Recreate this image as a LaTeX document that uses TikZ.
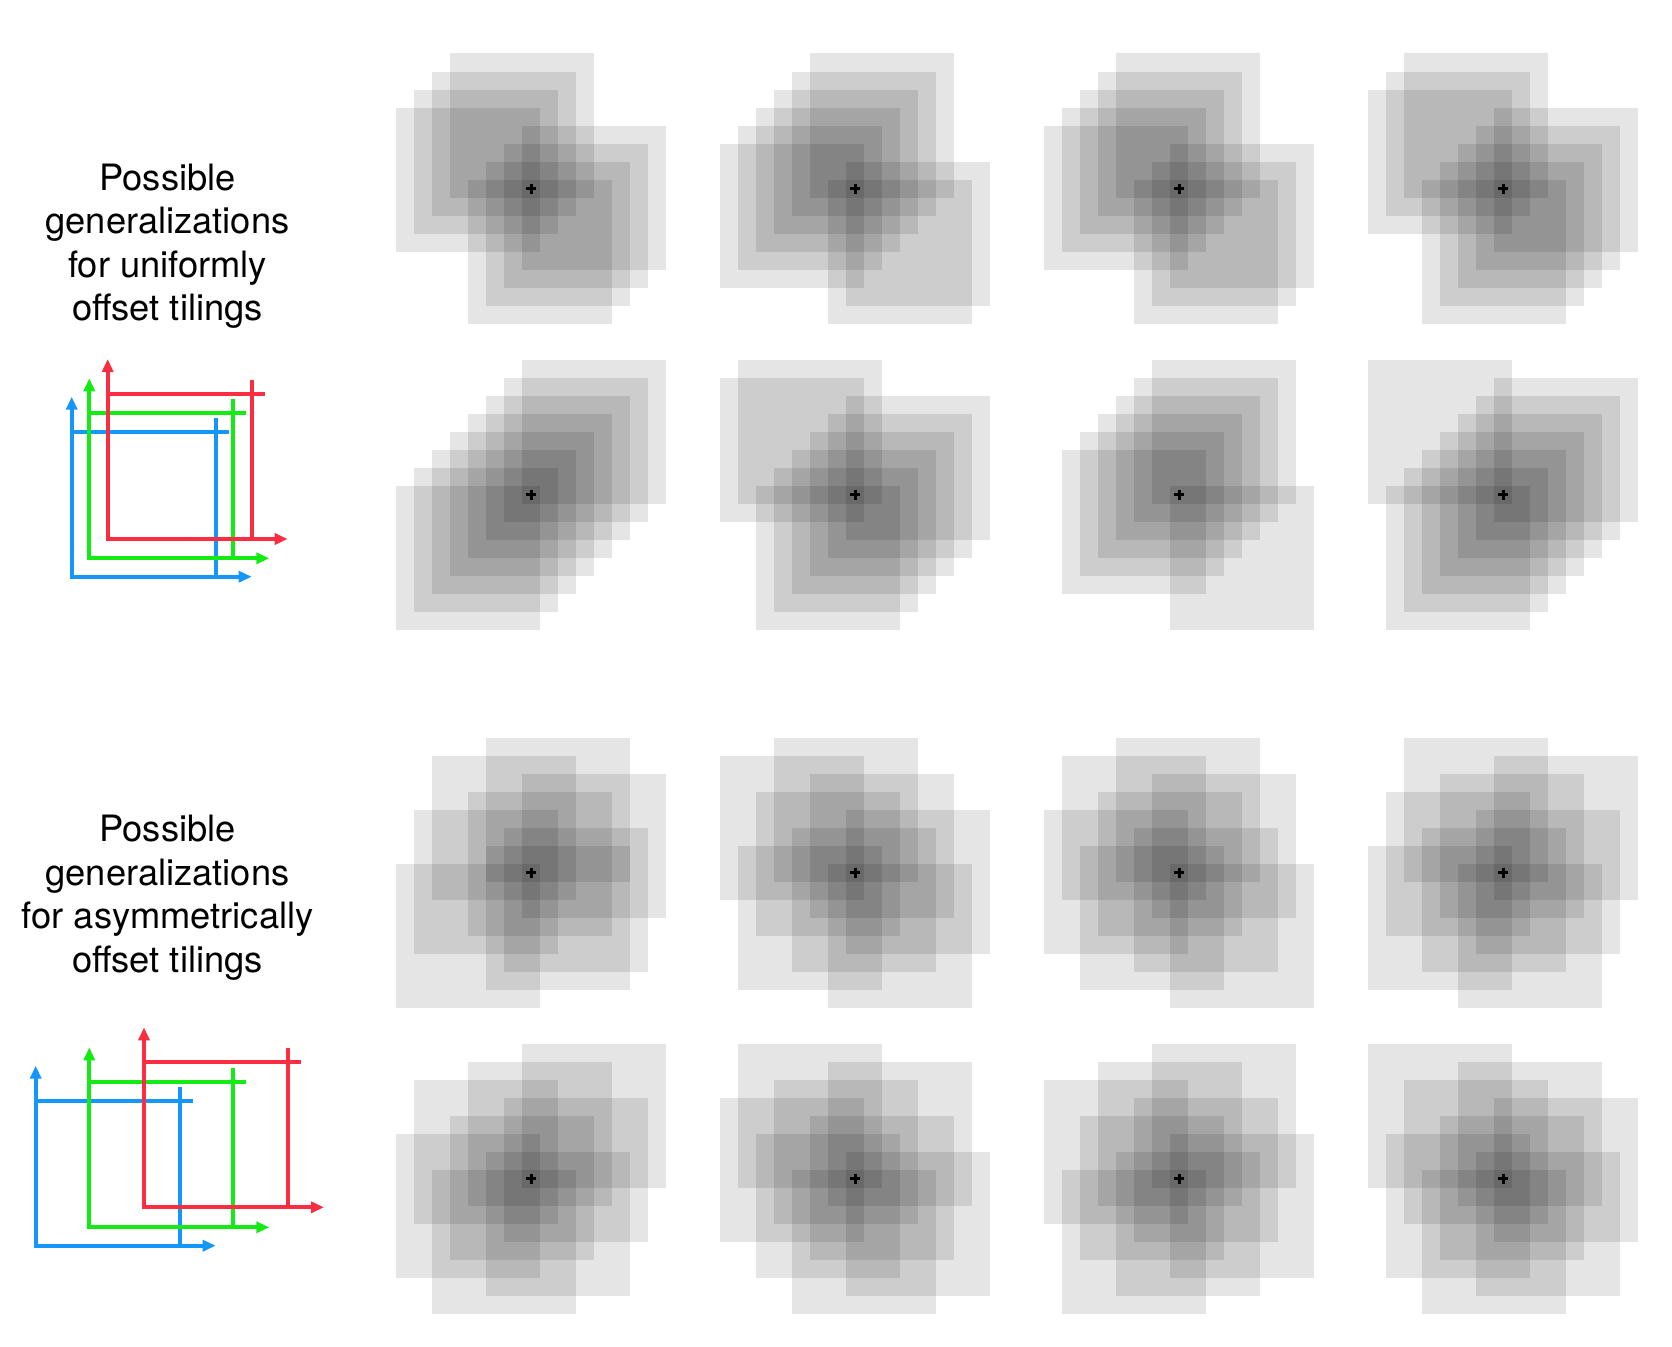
\documentclass[tikz,border=0pt]{standalone}
\usepackage{fontspec}
\setmainfont{TeX Gyre Heros}
\usetikzlibrary{arrows.meta}
\definecolor{lblue}{RGB}{20,150,250}
\definecolor{lgreen}{RGB}{20,235,20}
\definecolor{lred}{RGB}{250,45,65}
\tikzset{
  sq/.style={fill=black,fill opacity=0.1},
  crossmark/.style={draw=black,line width=3pt},
  leg/.style={line width=4pt},
  legarrows/.style={{Triangle[width=11pt,length=13pt]}-{Triangle[width=11pt,length=13pt]}},
  lbl/.style={align=center,inner sep=0pt,font=\fontsize{36.3}{43.5}\selectfont}
}
\newcommand\drawtile[3]{%
  \foreach \a/\b in {#3}{%
    \fill[sq] ({#1-(\a+0.5)*18},{#2+(\b+0.5)*18}) rectangle ++(144,-144);
  }
  \draw[crossmark] (#1-5,#2) -- (#1+5,#2) (#1,#2-5) -- (#1,#2+5);
}
\newcommand\legendaxes[3]{%
  \draw[leg,#3,legarrows] (#1,#2-180) -- (#1,#2) -- (#1+180,#2);
  \draw[leg,#3] (#1,#2-145) -- (#1+157,#2-145);
  \draw[leg,#3] (#1+144,#2-159) -- (#1+144,#2);
}
\begin{document}
\begin{tikzpicture}[x=1pt,y=-1pt]
\fill[white] (0,0) rectangle (1672,1346);
\useasboundingbox (0,0) rectangle (1672,1346);
% top section: uniformly offset
\drawtile{531}{188.5}{7/3,6/2,5/1,4/0,3/7,2/6,1/5,0/4}
\drawtile{855}{188.5}{7/5,6/4,5/3,4/2,3/1,2/0,1/7,0/6}
\drawtile{1179}{188.5}{7/4,6/3,5/2,4/1,3/0,2/7,1/6,0/5}
\drawtile{1503}{188.5}{7/2,6/1,5/0,4/7,3/6,2/5,1/4,0/3}
\drawtile{531}{494.5}{7/7,6/6,5/5,4/4,3/3,2/2,1/1,0/0}
\drawtile{855}{494.5}{7/1,6/0,5/7,4/6,3/5,2/4,1/3,0/2}
\drawtile{1179}{494.5}{6/5,5/4,4/3,3/2,2/1,1/0,0/7}
\drawtile{1503}{494.5}{7/0,6/7,5/6,4/5,3/4,2/3,1/2,0/1}
% bottom section: asymmetrically offset
\drawtile{531}{872.5}{0/2,1/5,2/0,3/3,2/6,5/1,6/4,7/7}
\drawtile{855}{872.5}{0/4,1/7,2/2,3/5,4/0,5/3,6/6,7/1}
\drawtile{1179}{872.5}{0/7,1/2,2/5,3/0,4/3,5/6,6/1,7/4}
\drawtile{1503}{872.5}{0/1,1/4,2/7,3/2,4/5,5/0,6/3,7/6}
\drawtile{531}{1178.5}{0/0,1/3,2/6,3/1,4/4,5/7,6/2,7/5}
\drawtile{855}{1178.5}{0/6,1/1,2/4,3/7,4/2,5/5,6/0,7/3}
\drawtile{1179}{1178.5}{0/5,1/0,2/3,3/6,4/1,5/4,6/7,7/2}
\drawtile{1503}{1178.5}{0/3,1/6,2/1,3/4,4/7,5/2,6/5,7/0}
% labels
\node[lbl] (lab1) at (167.5,246) {Possible\\generalizations\\for uniformly\\offset tilings};
\node[lbl] (lab2) at (167.5,897.5) {Possible\\generalizations\\for asymmetrically\\offset tilings};
% legends
\legendaxes{71.7}{576.7}{lblue}
\legendaxes{89.3}{558.3}{lgreen}
\legendaxes{107.7}{539}{lred}
\legendaxes{35.7}{1245.7}{lblue}
\legendaxes{89.3}{1227.3}{lgreen}
\legendaxes{144}{1207.3}{lred}
\end{tikzpicture}
\end{document}
